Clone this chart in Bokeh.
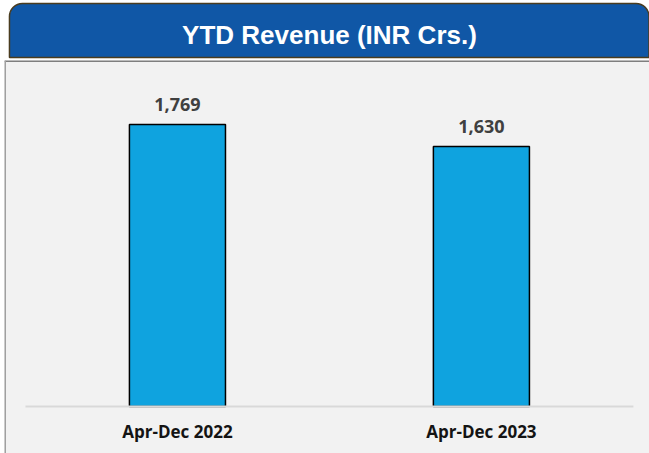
from bokeh.plotting import figure
from bokeh.layouts import column
from bokeh.models import Range1d, Span, ColumnDataSource
from bokeh.core.properties import value
from bokeh.embed import file_html
from bokeh.resources import INLINE

# ---- data ----
title_text = "YTD Revenue (INR Crs.)"
categories = ["Apr-Dec 2022", "Apr-Dec 2023"]
revenue = [1769, 1630]
value_labels = [f"{v:,}" for v in revenue]

W = 649
BANNER_H = 60
MAIN_H = 393

# ---- banner ----
banner = figure(width=W, height=BANNER_H, output_backend="svg", toolbar_location=None,
                x_range=Range1d(0, W), y_range=Range1d(0, BANNER_H),
                min_border=0, outline_line_color=None,
                background_fill_color="white", border_fill_color="white")
banner.axis.visible = False
banner.grid.visible = False
banner.quad(left=[5], right=[648.5], top=[57], bottom=[3],
            fill_color="#1057a6", line_color="#4a3c1f", line_width=1.5,
            border_radius=(13, 13, 0, 0))
banner.text(x=[327], y=[26], text=[title_text], text_align="center",
            text_baseline="alphabetic", text_color="white",
            text_font=value("Liberation Sans"), text_font_style="bold",
            text_font_size="26px")

# ---- main chart ----
x = list(range(len(categories)))
src = ColumnDataSource(dict(x=x, top=revenue, cat=categories, lab=value_labels))

X0, X1 = -0.569, 1.553
Y0, Y1 = -295, 2170
p = figure(width=W, height=MAIN_H, output_backend="svg", toolbar_location=None,
           x_range=Range1d(X0, X1), y_range=Range1d(Y0, Y1),
           min_border=0, min_border_left=4, outline_line_color=None,
           background_fill_color="#f2f2f2", border_fill_color="white")
p.axis.visible = False
p.grid.visible = False

p.vbar(x="x", top="top", bottom=0, width=0.316, source=src,
       fill_color="#0fa3df", line_color="black", line_width=1.5)
p.segment(x0=[-0.5], x1=[len(categories) - 0.5], y0=[0], y1=[0],
          line_color="#d9d9d9", line_width=2)

p.text(x="x", y="top", text="lab", source=src, text_align="center",
       text_baseline="alphabetic", y_offset=-20, text_color="#404040",
       text_font=value("Open Sans"), text_font_style="bold", text_font_size="18px")
p.text(x="x", y=0, text="cat", source=src, text_align="center",
       text_baseline="alphabetic", y_offset=25, text_color="#141414",
       text_font=value("Open Sans"), text_font_style="bold", text_font_size="17px")

p.add_layout(Span(location=Y1, dimension="width", line_color="#7f7f7f", line_width=3))
p.add_layout(Span(location=X0, dimension="height", line_color="#a0a0a0", line_width=3))

layout = column(banner, p, spacing=0)
open("out.html", "w").write(file_html(layout, INLINE))
